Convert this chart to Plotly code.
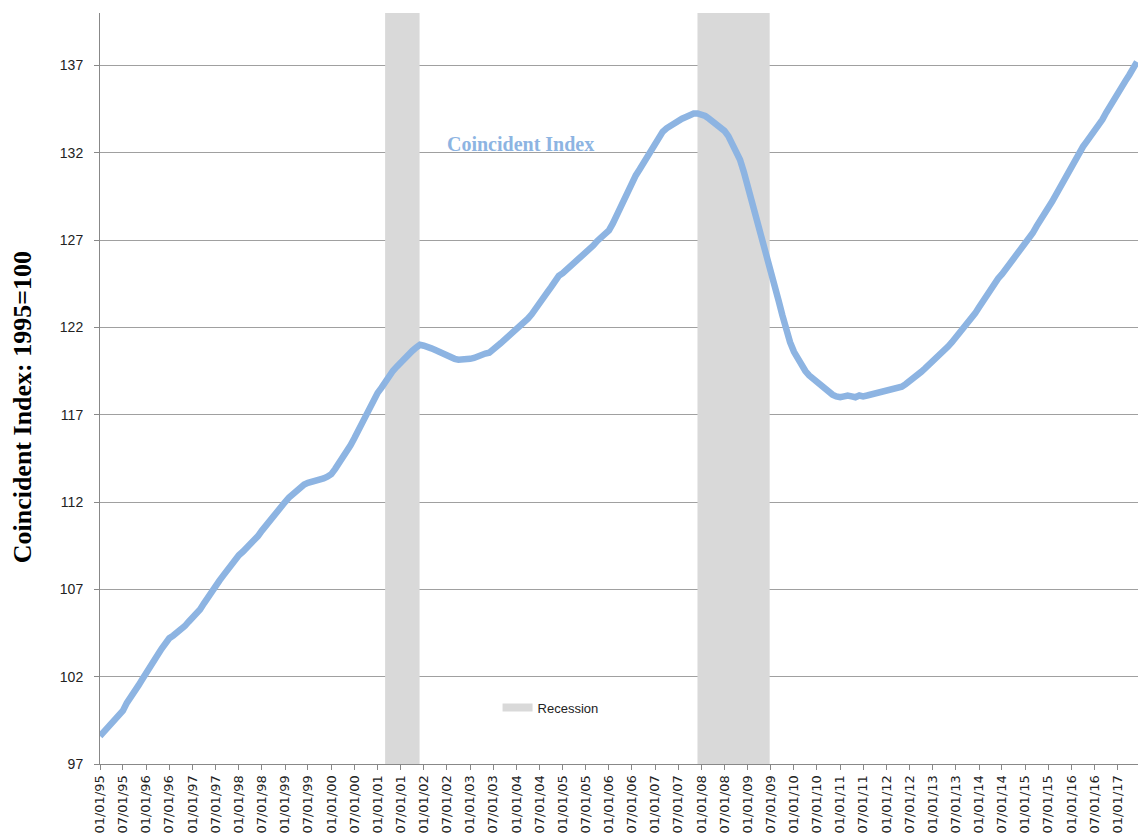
import plotly.graph_objects as go
import pandas as pd

# Monthly Coincident Index (1995=100), Jan 1995 – Jun 2017
start_month = "1995-01-01"
v1995 = [98.60, 98.85, 99.05, 99.25, 99.45, 99.70, 100.05, 100.50, 100.90, 101.20, 101.50, 101.85]
v1996 = [102.25, 102.60, 102.95, 103.25, 103.60, 103.95, 104.20, 104.35, 104.50, 104.70, 104.90, 105.15]
v1997 = [105.35, 105.55, 105.85, 106.20, 106.55, 106.90, 107.20, 107.50, 107.80, 108.10, 108.40, 108.70]
v1998 = [108.95, 109.15, 109.35, 109.60, 109.85, 110.05, 110.35, 110.65, 110.95, 111.25, 111.55, 111.85]
v1999 = [112.00, 112.25, 112.45, 112.65, 112.85, 113.00, 113.10, 113.15, 113.20, 113.25, 113.35, 113.45]
v2000 = [113.60, 113.90, 114.20, 114.55, 114.90, 115.25, 115.65, 116.10, 116.55, 117.00, 117.40, 117.85]
v2001 = [118.25, 118.55, 118.90, 119.20, 119.50, 119.75, 120.00, 120.25, 120.45, 120.65, 120.85, 121.00]
v2002 = [120.95, 120.90, 120.80, 120.70, 120.60, 120.45, 120.35, 120.25, 120.20, 120.15, 120.15, 120.15]
v2003 = [120.20, 120.25, 120.35, 120.45, 120.50, 120.55, 120.70, 120.90, 121.10, 121.30, 121.50, 121.70]
v2004 = [121.80, 122.00, 122.25, 122.50, 122.75, 123.10, 123.40, 123.70, 124.00, 124.30, 124.65, 124.95]
v2005 = [125.10, 125.30, 125.45, 125.65, 125.85, 126.00, 126.20, 126.45, 126.70, 126.95, 127.15, 127.35]
v2006 = [127.55, 127.95, 128.40, 128.85, 129.35, 129.85, 130.30, 130.70, 131.05, 131.40, 131.80, 132.20]
v2007 = [132.60, 132.95, 133.20, 133.40, 133.55, 133.70, 133.85, 133.95, 134.05, 134.15, 134.25, 134.25]
v2008 = [134.20, 134.10, 133.95, 133.80, 133.60, 133.45, 133.25, 132.95, 132.55, 132.15, 131.60, 130.90]
v2009 = [130.10, 129.30, 128.50, 127.70, 126.85, 125.95, 125.10, 124.35, 123.55, 122.70, 121.85, 121.15]
v2010 = [120.60, 120.15, 119.80, 119.50, 119.25, 119.05, 118.85, 118.65, 118.45, 118.30, 118.15, 118.05]
v2011 = [118.00, 118.05, 118.10, 118.05, 118.00, 118.10, 118.05, 118.10, 118.15, 118.20, 118.25, 118.30]
v2012 = [118.35, 118.40, 118.45, 118.50, 118.60, 118.75, 118.90, 119.05, 119.25, 119.45, 119.65, 119.85]
v2013 = [120.00, 120.20, 120.40, 120.65, 120.90, 121.15, 121.40, 121.70, 121.95, 122.20, 122.50, 122.80]
v2014 = [123.15, 123.50, 123.85, 124.20, 124.50, 124.80, 125.05, 125.35, 125.65, 125.95, 126.30, 126.60]
v2015 = [126.85, 127.05, 127.40, 127.80, 128.20, 128.55, 128.85, 129.20, 129.60, 130.05, 130.50, 130.90]
v2016 = [131.25, 131.65, 132.05, 132.35, 132.65, 132.95, 133.25, 133.55, 133.90, 134.30, 134.70, 135.10]
v2017 = [135.45, 135.80, 136.10, 136.45, 136.80, 137.20]

values = (v1995 + v1996 + v1997 + v1998 + v1999 + v2000 + v2001 + v2002 + v2003
          + v2004 + v2005 + v2006 + v2007 + v2008 + v2009 + v2010 + v2011 + v2012
          + v2013 + v2014 + v2015 + v2016 + v2017)
dates = pd.date_range(start_month, periods=len(values), freq="MS")

recession_start = ["2001-03-01", "2007-12-01"]
recession_end = ["2001-11-28", "2009-06-23"]

y_ticks = [97, 102, 107, 112, 117, 122, 127, 132, 137]
y_range = [97, 140]

series_name = "Coincident Index"
y_title = "Coincident Index: 1995=100"
legend_name = "Recession"

LINE_COLOR = "#8db4e2"
BAND_COLOR = "#d9d9d9"
GRID_COLOR = "#a0a0a0"

fig = go.Figure()

# recession bands, drawn in data coordinates (above gridlines, below the line)
for s, e in zip(recession_start, recession_end):
    fig.add_trace(go.Scatter(
        x=[s, s, e, e, s], y=[y_range[0], y_range[1], y_range[1], y_range[0], y_range[0]],
        mode="lines", fill="toself", fillcolor=BAND_COLOR,
        line=dict(width=0, color=BAND_COLOR), showlegend=False, hoverinfo="skip",
    ))

fig.add_trace(go.Scatter(
    x=dates, y=values, mode="lines", name=series_name,
    line=dict(color=LINE_COLOR, width=6.5), showlegend=False,
))

# legend entry for the recession bands
fig.add_trace(go.Scatter(
    x=[None], y=[None], mode="lines", name=legend_name,
    line=dict(color=BAND_COLOR, width=8), showlegend=True,
))

fig.add_annotation(
    text="<b>" + series_name + "</b>", x=0.405, y=0.8256, xref="paper", yref="paper",
    showarrow=False, font=dict(family="Liberation Serif", size=20, color=LINE_COLOR),
    xanchor="center", yanchor="middle",
)

fig.add_annotation(
    text="<b>" + y_title + "</b>", x=-0.0751, y=0.475, xref="paper", yref="paper",
    showarrow=False, textangle=-90,
    font=dict(family="Liberation Serif", size=26, color="black"),
    xanchor="center", yanchor="middle",
)

fig.update_layout(
    width=1138, height=835,
    margin=dict(l=100, r=0, t=13, b=71),
    paper_bgcolor="white", plot_bgcolor="white",
    showlegend=True,
    legend=dict(x=0.383, y=0.075, xanchor="left", yanchor="middle",
                font=dict(family="Liberation Sans", size=13, color="#222"),
                bgcolor="rgba(0,0,0,0)", itemwidth=30),
)

fig.update_xaxes(
    type="date",
    range=["1995-01-01", "2017-06-09"],
    tick0="1995-01-01", dtick="M6", tickformat="%m/%d/%y",
    tickangle=-90, automargin=False,
    ticks="outside", ticklen=5, tickcolor="#888",
    showline=True, linecolor="#888", linewidth=1,
    showgrid=False, zeroline=False,
    tickfont=dict(family="DejaVu Sans", size=13, color="#222"),
)

fig.update_yaxes(
    range=y_range,
    tickvals=y_ticks, automargin=False,
    ticks="outside", ticklen=5, tickcolor="#888",
    showline=True, linecolor="#888", linewidth=1,
    showgrid=True, gridcolor=GRID_COLOR, gridwidth=1,
    zeroline=False,
    ticklabelstandoff=8,
    tickfont=dict(family="Liberation Sans", size=14, color="#222"),
)

fig.write_html(
    "out.html",
    config={"displayModeBar": False},
    post_script="document.body.style.margin='0';document.body.style.overflow='hidden';",
)
